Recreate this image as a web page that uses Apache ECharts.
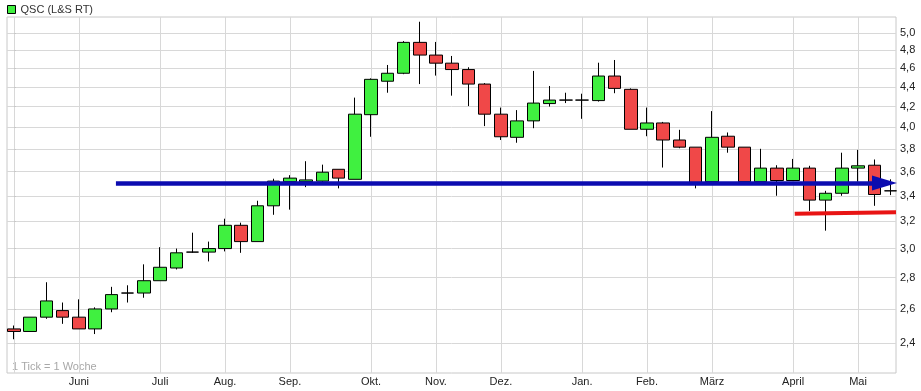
<!DOCTYPE html>
<html>
<head>
<meta charset="utf-8">
<script src="https://cdn.jsdelivr.net/npm/echarts@6/dist/echarts.min.js"></script>
<style>html,body{margin:0;padding:0;background:#fff}#c{width:921px;height:391px}</style>
</head>
<body>
<div id="c"></div>
<script>
// Weekly candles (index 0..54)
const opens  = [2.48,2.465,2.55,2.59,2.55,2.48,2.60,2.70,2.70,2.78,2.865,2.975,2.975,3.00,3.17,3.05,3.32,3.515,3.515,3.52,3.62,3.535,4.12,4.46,4.545,4.89,4.745,4.655,4.585,4.43,4.125,3.905,4.06,4.23,4.265,4.265,4.26,4.515,4.375,3.98,4.04,3.88,3.815,3.515,3.915,3.815,3.515,3.63,3.525,3.63,3.365,3.42,3.63,3.655,3.44];
const closes = [2.465,2.55,2.65,2.55,2.48,2.60,2.69,2.70,2.78,2.87,2.97,2.975,3.00,3.17,3.05,3.32,3.52,3.545,3.53,3.595,3.545,4.125,4.48,4.545,4.89,4.745,4.655,4.585,4.43,4.125,3.91,4.06,4.235,4.265,4.265,4.265,4.515,4.385,3.98,4.04,3.88,3.815,3.505,3.905,3.815,3.515,3.63,3.525,3.63,3.365,3.42,3.63,3.65,3.41,3.44];
const lows   = [2.42,2.465,2.54,2.51,2.48,2.45,2.58,2.64,2.67,2.78,2.855,2.97,2.91,2.98,2.97,3.05,3.25,3.29,3.47,3.51,3.46,3.535,3.91,4.34,4.535,4.43,4.52,4.31,4.205,4.01,3.88,3.855,3.99,4.20,4.235,4.08,4.25,4.335,3.98,3.915,3.635,3.805,3.46,3.515,3.765,3.515,3.515,3.40,3.52,3.28,3.13,3.40,3.515,3.32,3.405];
const highs  = [2.50,2.55,2.77,2.64,2.66,2.61,2.74,2.75,2.89,3.01,3.00,3.115,3.05,3.22,3.19,3.36,3.54,3.57,3.69,3.66,3.62,4.29,4.49,4.635,4.905,5.135,4.895,4.735,4.61,4.44,4.19,4.165,4.57,4.41,4.34,4.33,4.66,4.69,4.385,4.19,4.05,3.975,3.815,4.155,3.95,3.815,3.80,3.655,3.71,3.65,3.44,3.765,3.79,3.705,3.535];

// Axis ticks
const monthTicks  = [0,4,9,13,17,22,26,30,35,39,43,48,52];
const monthLabels = ['','Juni','Juli','Aug.','Sep.','Okt.','Nov.','Dez.','Jan.','Feb.','März','April','Mai'];
const priceTicks  = [2.4,2.6,2.8,3.0,3.2,3.4,3.6,3.8,4.0,4.2,4.4,4.6,4.8,5.0];

// Drawn annotations (week index, price)
const trendStart = [6.28, 3.504];
const trendEnd   = [53.63, 3.504];
const supportStart = [48.1, 3.258];
const supportEnd   = [54.34, 3.27];

const priceMin = 2.234, priceMax = 5.193;
const weekMin = -0.431, weekMax = 54.34;

const L = Math.log;
const candleData = opens.map((o, i) => [i, L(o), L(closes[i]), L(lows[i]), L(highs[i])]);
const labelMap = {};
monthTicks.forEach((t, i) => labelMap[t] = monthLabels[i]);

const FONT = 'Liberation Sans';
const chart = echarts.init(document.getElementById('c'), null, {renderer: 'canvas'});
chart.setOption({
  animation: false,
  backgroundColor: '#fff',
  textStyle: {fontFamily: FONT},
  legend: {
    left: 7, top: 4, padding: 0, itemWidth: 8, itemHeight: 8,
    textStyle: {fontSize: 11, color: '#333', fontFamily: FONT},
    data: [{name: 'QSC (L&S RT)', icon: 'rect', itemStyle: {color: '#40f040', borderColor: '#000', borderWidth: 1}}]
  },
  grid: {left: 7, right: 25, top: 17, bottom: 18, show: true, borderColor: '#c8c8c8', borderWidth: 1, containLabel: false},
  xAxis: {
    type: 'value', min: weekMin, max: weekMax,
    axisLine: {show: false},
    axisTick: {show: false, customValues: monthTicks},
    axisLabel: {customValues: monthTicks.slice(1), margin: 3, fontSize: 11, color: '#222', fontFamily: FONT,
      formatter: v => labelMap[Math.round(v)] || ''},
    splitLine: {show: true, lineStyle: {color: '#d8d8d8', width: 1}}
  },
  yAxis: {
    type: 'value', position: 'right', min: L(priceMin), max: L(priceMax), scale: true,
    axisLine: {show: false},
    axisTick: {show: true, length: 2, lineStyle: {color: '#c8c8c8'}, customValues: priceTicks.map(L)},
    axisLabel: {customValues: priceTicks.map(L), margin: 4, fontSize: 11, color: '#222', fontFamily: FONT,
      formatter: v => Math.exp(v).toFixed(1).replace('.', ',')},
    splitLine: {show: true, lineStyle: {color: '#d8d8d8', width: 1}}
  },
  graphic: [{type: 'text', left: 12, top: 361, style: {text: '1 Tick = 1 Woche', fontSize: 11, fill: '#a8a8a8', fontFamily: FONT}}],
  series: [{
    name: 'QSC (L&S RT)',
    type: 'candlestick',
    data: candleData,
    encode: {x: 0, y: [1, 2, 3, 4]},
    barWidth: 13,
    itemStyle: {color: '#40f040', color0: '#f04848', borderColor: '#000', borderColor0: '#000', borderColorDoji: '#000', borderWidth: 1},
    markLine: {
      silent: true, animation: false,
      label: {show: false},
      emphasis: {disabled: true},
      data: [
        [{coord: [trendStart[0], L(trendStart[1])], symbol: 'none'},
         {coord: [trendEnd[0], L(trendEnd[1])], symbol: 'triangle', symbolSize: [15, 25]}],
        [{coord: [supportStart[0], L(supportStart[1])], symbol: 'none', lineStyle: {color: '#e81414', width: 4, type: 'solid'}},
         {coord: [supportEnd[0], L(supportEnd[1])], symbol: 'none'}]
      ],
      lineStyle: {color: '#0c0cb0', width: 4.5, type: 'solid', opacity: 1}
    }
  }]
});
</script>
</body>
</html>
